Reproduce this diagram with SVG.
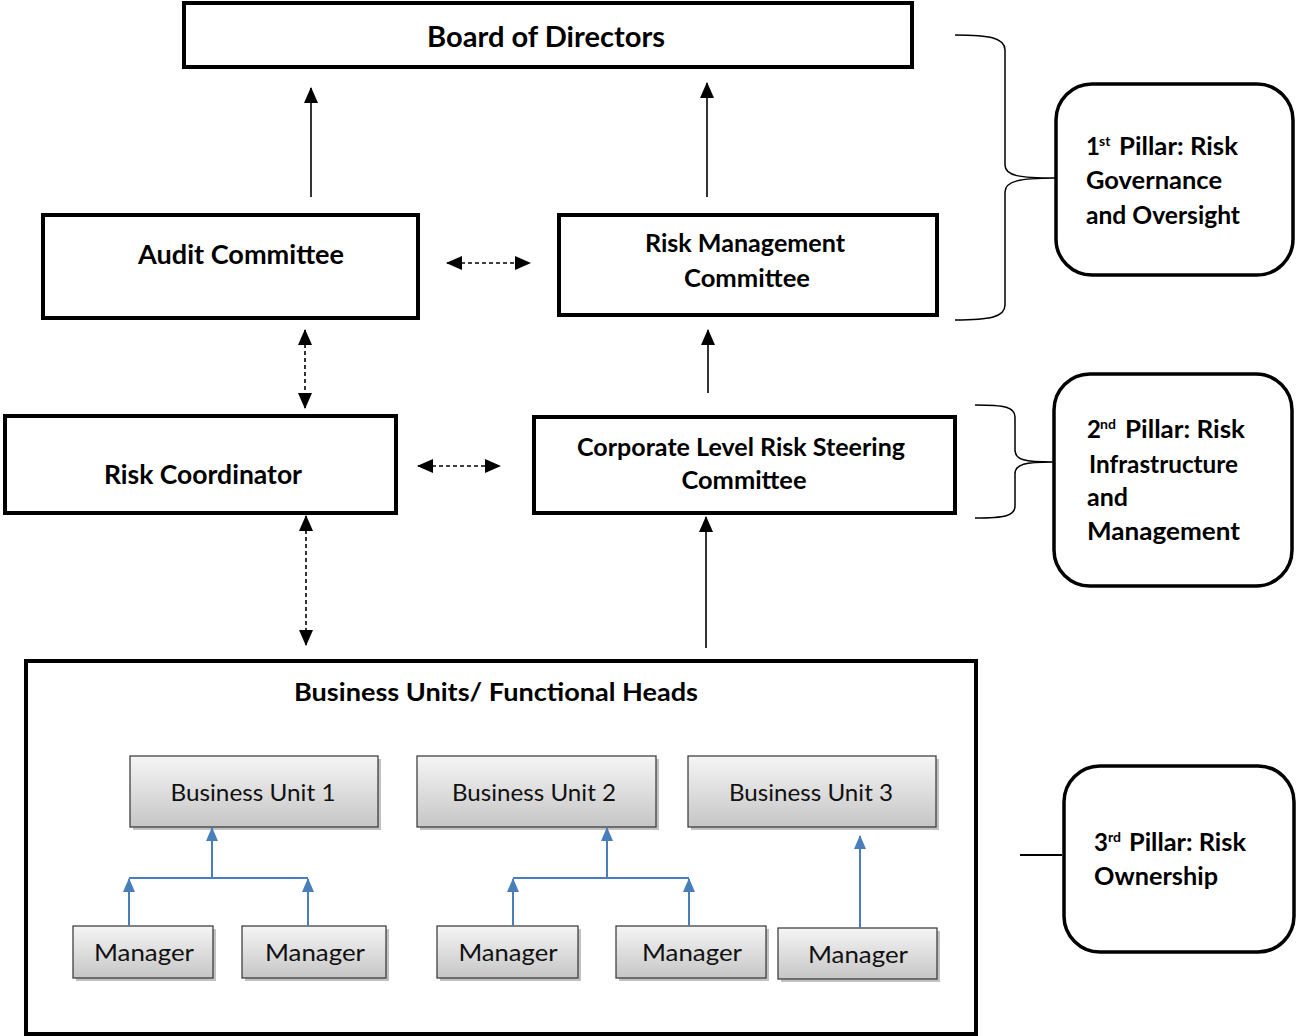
<svg xmlns="http://www.w3.org/2000/svg" width="1296" height="1036" viewBox="0 0 1296 1036">
<style>
.box{fill:#fff;stroke:#000;stroke-width:4}
.pill{fill:#fff;stroke:#000;stroke-width:3.5}
.bt{font-family:Lato,"Liberation Sans",sans-serif;font-weight:bold;fill:#000;text-anchor:middle}
.pt{font-family:Lato,"Liberation Sans",sans-serif;font-weight:bold;fill:#000;font-size:24px}
.sup{font-family:Lato,"Liberation Sans",sans-serif;font-weight:bold;fill:#000;font-size:14px}
.gb{fill:url(#gg);stroke:#333;stroke-width:1.2}
.sh{fill:#9a9a9a;opacity:0.6}
.gt{font-family:Lato,"Liberation Sans",sans-serif;fill:#111;font-size:24px;text-anchor:middle}
.blk{stroke:#000;stroke-width:1.6;fill:none}
.dash{stroke:#000;stroke-width:1.6;fill:none;stroke-dasharray:4 3}
.blue{stroke:#4a7ebb;stroke-width:2;fill:none}
.brace{stroke:#000;stroke-width:1.5;fill:none}
</style>
<defs>
<linearGradient id="gg" x1="0" y1="0" x2="0" y2="1">
<stop offset="0" stop-color="#f5f5f5"/>
<stop offset="1" stop-color="#c6c6c6"/>
</linearGradient>
<marker id="ah" markerUnits="userSpaceOnUse" markerWidth="16" markerHeight="14" refX="15" refY="7" orient="auto-start-reverse">
<path d="M0,0 L16,7 L0,14 Z" fill="#000"/>
</marker>
<marker id="ab" markerUnits="userSpaceOnUse" markerWidth="14" markerHeight="12" refX="13" refY="6" orient="auto">
<path d="M0,0 L14,6 L0,12 Z" fill="#4a7ebb"/>
</marker>
</defs>

<g id="board">
<rect class="box" x="184" y="3" width="728" height="64"/>
<text class="bt" x="546" y="47" font-size="28" textLength="238" lengthAdjust="spacingAndGlyphs">Board of Directors</text>
</g>
<g id="audit">
<rect class="box" x="43" y="215" width="375" height="103"/>
<text class="bt" x="241" y="264" font-size="26" textLength="206" lengthAdjust="spacingAndGlyphs">Audit Committee</text>
</g>
<g id="rmc">
<rect class="box" x="559" y="215" width="378" height="100"/>
<text class="bt" x="745" y="252" font-size="24" textLength="200" lengthAdjust="spacingAndGlyphs">Risk Management</text>
<text class="bt" x="747" y="287" font-size="24" textLength="126" lengthAdjust="spacingAndGlyphs">Committee</text>
</g>
<g id="coord">
<rect class="box" x="5" y="416" width="391" height="97"/>
<text class="bt" x="203" y="484" font-size="26" textLength="198" lengthAdjust="spacingAndGlyphs">Risk Coordinator</text>
</g>
<g id="clrsc">
<rect class="box" x="534" y="417" width="421" height="96"/>
<text class="bt" x="741" y="456" font-size="24" textLength="328" lengthAdjust="spacingAndGlyphs">Corporate Level Risk Steering</text>
<text class="bt" x="744" y="489" font-size="24" textLength="125" lengthAdjust="spacingAndGlyphs">Committee</text>
</g>
<g id="bu-heads">
<rect class="box" x="26" y="661" width="950" height="373"/>
<text class="bt" x="496" y="701" font-size="24" textLength="404" lengthAdjust="spacingAndGlyphs">Business Units/ Functional Heads</text>
</g>

<g id="bu1"><rect class="sh" x="133" y="759" width="248" height="71"/><rect class="gb" x="130" y="756" width="248" height="71"/><text class="gt" x="253" y="801" textLength="165" lengthAdjust="spacingAndGlyphs">Business Unit 1</text></g>
<g id="bu2"><rect class="sh" x="420" y="759" width="239" height="71"/><rect class="gb" x="417" y="756" width="239" height="71"/><text class="gt" x="534" y="801" textLength="164" lengthAdjust="spacingAndGlyphs">Business Unit 2</text></g>
<g id="bu3"><rect class="sh" x="691" y="759" width="248" height="71"/><rect class="gb" x="688" y="756" width="248" height="71"/><text class="gt" x="811" y="801" textLength="164" lengthAdjust="spacingAndGlyphs">Business Unit 3</text></g>
<g id="m1"><rect class="sh" x="76" y="929" width="140" height="52"/><rect class="gb" x="73" y="926" width="140" height="52"/><text class="gt" x="144" y="961" textLength="100" lengthAdjust="spacingAndGlyphs">Manager</text></g>
<g id="m2"><rect class="sh" x="245" y="929" width="144" height="52"/><rect class="gb" x="242" y="926" width="144" height="52"/><text class="gt" x="315" y="961" textLength="100" lengthAdjust="spacingAndGlyphs">Manager</text></g>
<g id="m3"><rect class="sh" x="440" y="929" width="141" height="52"/><rect class="gb" x="437" y="926" width="141" height="52"/><text class="gt" x="508" y="961" textLength="99" lengthAdjust="spacingAndGlyphs">Manager</text></g>
<g id="m4"><rect class="sh" x="619" y="929" width="150" height="52"/><rect class="gb" x="616" y="926" width="150" height="52"/><text class="gt" x="692" y="961" textLength="100" lengthAdjust="spacingAndGlyphs">Manager</text></g>
<g id="m5"><rect class="sh" x="781" y="931" width="159" height="51"/><rect class="gb" x="778" y="928" width="159" height="51"/><text class="gt" x="858" y="963" textLength="100" lengthAdjust="spacingAndGlyphs">Manager</text></g>

<g id="pillar1">
<rect class="pill" x="1056" y="84" width="237" height="191" rx="36"/>
<text class="pt" x="1086" y="155">1</text><text class="sup" x="1099" y="146">st</text>
<text class="pt" x="1119" y="155" textLength="119" lengthAdjust="spacingAndGlyphs">Pillar: Risk</text>
<text class="pt" x="1086" y="189" textLength="136" lengthAdjust="spacingAndGlyphs">Governance</text>
<text class="pt" x="1086" y="224" textLength="154" lengthAdjust="spacingAndGlyphs">and Oversight</text>
</g>
<g id="pillar2">
<rect class="pill" x="1054" y="374" width="238" height="212" rx="36"/>
<text class="pt" x="1087" y="438">2</text><text class="sup" x="1100" y="429">nd</text>
<text class="pt" x="1125" y="438" textLength="120" lengthAdjust="spacingAndGlyphs">Pillar: Risk</text>
<text class="pt" x="1089" y="473" textLength="149" lengthAdjust="spacingAndGlyphs">Infrastructure</text>
<text class="pt" x="1087" y="506" textLength="41" lengthAdjust="spacingAndGlyphs">and</text>
<text class="pt" x="1087" y="540" textLength="153" lengthAdjust="spacingAndGlyphs">Management</text>
</g>
<g id="pillar3">
<rect class="pill" x="1064" y="766" width="230" height="186" rx="36"/>
<text class="pt" x="1094" y="851">3</text><text class="sup" x="1108" y="842">rd</text>
<text class="pt" x="1129" y="851" textLength="117" lengthAdjust="spacingAndGlyphs">Pillar: Risk</text>
<text class="pt" x="1094" y="885" textLength="124" lengthAdjust="spacingAndGlyphs">Ownership</text>
</g>

<g id="connectors">
<line class="blk" x1="311" y1="197" x2="311" y2="88" marker-end="url(#ah)"/>
<line class="blk" x1="707" y1="197" x2="707" y2="83" marker-end="url(#ah)"/>
<line class="dash" x1="447" y1="263" x2="530" y2="263" marker-start="url(#ah)" marker-end="url(#ah)"/>
<line class="dash" x1="305" y1="330" x2="305" y2="408" marker-start="url(#ah)" marker-end="url(#ah)"/>
<line class="blk" x1="708" y1="393" x2="708" y2="330" marker-end="url(#ah)"/>
<line class="dash" x1="418" y1="466" x2="500" y2="466" marker-start="url(#ah)" marker-end="url(#ah)"/>
<line class="dash" x1="306" y1="516" x2="306" y2="645" marker-start="url(#ah)" marker-end="url(#ah)"/>
<line class="blk" x1="706" y1="648" x2="706" y2="517" marker-end="url(#ah)"/>

<path class="blue" d="M129,878 L308,878"/>
<line class="blue" x1="212" y1="878" x2="212" y2="828" marker-end="url(#ab)"/>
<line class="blue" x1="129" y1="926" x2="129" y2="879" marker-end="url(#ab)"/>
<line class="blue" x1="308" y1="926" x2="308" y2="879" marker-end="url(#ab)"/>
<path class="blue" d="M513,878 L689,878"/>
<line class="blue" x1="607" y1="878" x2="607" y2="828" marker-end="url(#ab)"/>
<line class="blue" x1="513" y1="926" x2="513" y2="879" marker-end="url(#ab)"/>
<line class="blue" x1="689" y1="926" x2="689" y2="879" marker-end="url(#ab)"/>
<line class="blue" x1="860" y1="928" x2="860" y2="836" marker-end="url(#ab)"/>

<path class="brace" d="M955,35 C990,35 1005,38 1005,50 L1005,165 C1005,176 1020,178 1055,178 C1020,178 1005,181 1005,192 L1005,305 C1005,317 990,320 955,320"/>
<path class="brace" d="M975,405 C1005,405 1015,407 1015,417 L1015,450 C1015,460 1025,462 1053,462 C1025,462 1015,464 1015,474 L1015,506 C1015,516 1005,518 975,518"/>
<line x1="1020" y1="855" x2="1062" y2="855" stroke="#000" stroke-width="2.2"/>
</g>
</svg>
